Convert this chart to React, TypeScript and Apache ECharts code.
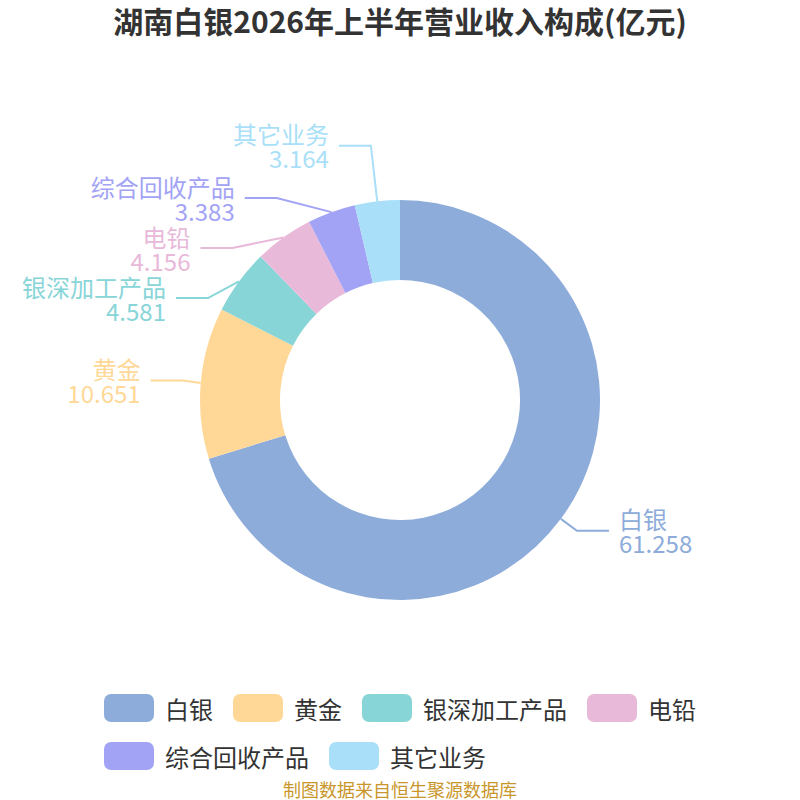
import React, { useEffect, useRef } from "react";
import * as echarts from "echarts";

const titleText = "湖南白银2026年上半年营业收入构成(亿元)";
const footerText = "制图数据来自恒生聚源数据库";
const categories = ["白银", "黄金", "银深加工产品", "电铅", "综合回收产品", "其它业务"];
const values = [61.258, 10.651, 4.581, 4.156, 3.383, 3.164];
const colors = ["#8DACDA", "#FFD898", "#88D5D8", "#E8B9D9", "#A3A3F5", "#A9DFF8"];
const lineLengths = [20, 28, 20, 20, 15, 56];

const FONT = "'Noto Sans CJK SC', 'Noto Sans', sans-serif";

export default function App() {
  const ref = useRef<HTMLDivElement>(null);
  useEffect(() => {
    if (!ref.current) return;
    const chart = echarts.init(ref.current, undefined, { renderer: "svg" });
    const data = categories.map((name, i) => ({
      name,
      value: values[i],
      itemStyle: { color: colors[i] },
      label: { color: colors[i] },
      labelLine: { length: lineLengths[i], lineStyle: { color: colors[i] } },
    }));
    chart.setOption({
      animation: false,
      backgroundColor: "#ffffff",
      textStyle: { fontFamily: FONT },
      title: {
        text: titleText,
        left: "center",
        top: 0,
        textStyle: { fontSize: 30, fontWeight: "bold", color: "#333333", fontFamily: FONT },
      },
      legend: {
        data: categories,
        left: "center",
        top: 689,
        itemWidth: 50,
        itemHeight: 28,
        itemGap: 20,
        icon: "roundRect",
        textStyle: { fontSize: 24, color: "#333333", fontFamily: FONT, padding: [0, 0, 0, 6] },
      },
      series: [
        {
          type: "pie",
          center: [400, 400],
          radius: [120, 200],
          startAngle: 90,
          clockwise: true,
          data,
          label: {
            show: true,
            formatter: "{b}\n{c}",
            fontSize: 24,
            lineHeight: 24,
            fontFamily: FONT,
            distanceToLabelLine: 10,
          },
          labelLine: { show: true, length: 20, length2: 32, lineStyle: { width: 2 } },
        },
      ],
      graphic: [
        {
          type: "text",
          x: 400,
          y: 789,
          style: {
            text: footerText,
            fill: "#C9962B",
            fontSize: 18,
            fontFamily: FONT,
            textAlign: "center",
            textVerticalAlign: "middle",
          },
        },
      ],
    });
    return () => chart.dispose();
  }, []);
  return <div ref={ref} style={{ position: "absolute", left: 0, top: 0, width: 800, height: 800 }} />;
}
